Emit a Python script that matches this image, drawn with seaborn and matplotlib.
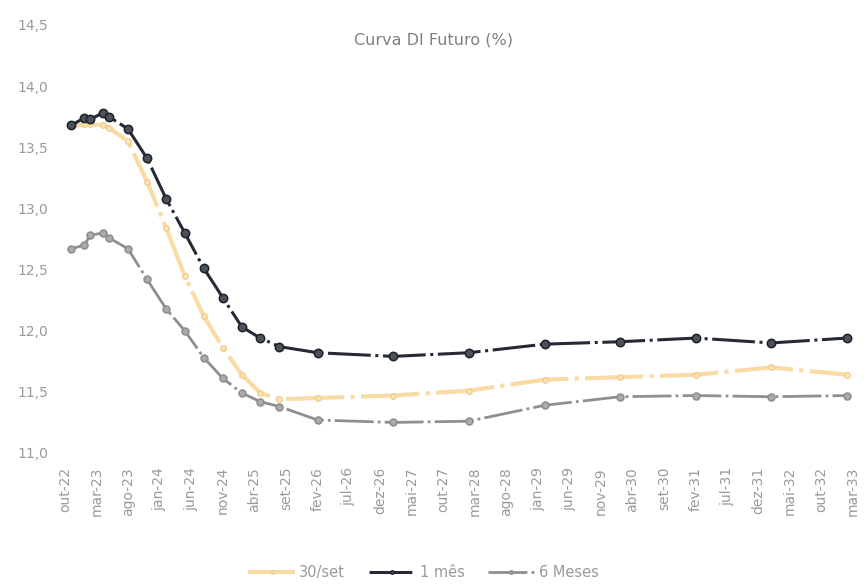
import numpy as np
import pandas as pd
import matplotlib
matplotlib.use("Agg")
import matplotlib.pyplot as plt
from matplotlib.lines import Line2D
from matplotlib.ticker import FuncFormatter
import seaborn as sns

# vencimentos dos contratos (eixo x)
vencimentos = ["2022-11-01", "2023-01-01", "2023-02-01", "2023-04-01", "2023-05-01",
               "2023-08-01", "2023-11-01", "2024-02-01", "2024-05-01", "2024-08-01",
               "2024-11-01", "2025-02-01", "2025-05-01", "2025-08-01", "2026-02-01",
               "2027-02-01", "2028-02-01", "2029-02-01", "2030-02-01", "2031-02-01",
               "2032-02-01", "2033-02-01"]

# taxas (%)
taxa_30set = [13.67, 13.69, 13.69, 13.68, 13.66, 13.55, 13.22, 12.84, 12.45, 12.12,
              11.86, 11.64, 11.49, 11.44, 11.45, 11.47, 11.51, 11.60, 11.62, 11.64,
              11.70, 11.64]
taxa_1mes = [13.68, 13.74, 13.73, 13.78, 13.75, 13.65, 13.41, 13.08, 12.80, 12.51,
             12.27, 12.03, 11.94, 11.87, 11.82, 11.79, 11.82, 11.89, 11.91, 11.94,
             11.90, 11.94]
taxa_6meses = [12.67, 12.70, 12.78, 12.80, 12.76, 12.67, 12.42, 12.18, 12.00, 11.78,
               11.61, 11.49, 11.42, 11.38, 11.27, 11.25, 11.26, 11.39, 11.46, 11.47,
               11.46, 11.47]

meses_pt = ["jan", "fev", "mar", "abr", "mai", "jun", "jul", "ago", "set", "out", "nov", "dez"]

datas = pd.to_datetime(vencimentos)

sns.set_style("white")
plt.rcParams["font.family"] = ["DejaVu Sans"]

fig = plt.figure(figsize=(8.68, 5.85), dpi=100)
ax = fig.add_axes([65 / 868, 1 - 453 / 585, (853 - 65) / 868, (453 - 25) / 585])

estilo = (0, (14, 1.5, 1, 1.5))

# series: (rotulo, valores, cor linha, lw, alpha, tamanho marcador, borda, preenchimento)
series = [
    ("30/set", taxa_30set, "#f8d595", 3.0, 0.85, 4.0, "#f3cb85", "#fbe6c0"),
    ("1 mês", taxa_1mes, "#252a35", 2.2, 1.0, 6.0, "#1d212a", "#4d515a"),
    ("6 Meses", taxa_6meses, "#8f8f8f", 2.0, 1.0, 5.0, "#8c8c8c", "#ababab"),
]

proxies = []
for rotulo, valores, cor, lw, alpha, ms, borda, preench in series:
    sns.lineplot(x=datas, y=valores, ax=ax, color=cor, lw=lw, alpha=alpha,
                 marker="o", markersize=ms, markeredgecolor=borda, markerfacecolor=preench,
                 markeredgewidth=1.1, linestyle=estilo)
    proxies.append(Line2D([0], [0], color=cor, lw=lw, alpha=alpha, linestyle=estilo,
                          marker="o", markersize=2.5, markeredgecolor=borda,
                          markerfacecolor=preench, label=rotulo))

# eixo x: a cada 5 meses
ticks = pd.date_range("2022-10-01", "2033-03-01", freq="5MS")
ax.set_xlim(ticks[0], ticks[-1])
ax.set_xticks(ticks)
ax.set_xticklabels([f"{meses_pt[d.month - 1]}-{d.year % 100:02d}" for d in ticks],
                   rotation=90, fontsize=10, color="#9a9a9a")

# eixo y
ax.set_ylim(11.0, 14.5)
ax.set_yticks(np.arange(11.0, 14.51, 0.5))
ax.yaxis.set_major_formatter(FuncFormatter(lambda v, p: f"{v:.1f}".replace(".", ",")))
ax.tick_params(axis="y", labelsize=10, labelcolor="#9a9a9a", pad=12, length=0)
ax.tick_params(axis="x", pad=10, length=0)

for s in ax.spines.values():
    s.set_visible(False)
ax.set_xlabel("")
ax.set_ylabel("")

fig.text(0.5, 1 - 40 / 585, "Curva DI Futuro (%)", ha="center", va="center",
         fontsize=11.5, color="#808080")

ax.legend(handles=proxies, loc="center", bbox_to_anchor=(0.455, -0.28), ncol=3,
          frameon=False, fontsize=10.5, handlelength=3.2, columnspacing=1.6,
          handletextpad=0.3, labelcolor="#9a9a9a")

fig.savefig("out.png", dpi=100)
